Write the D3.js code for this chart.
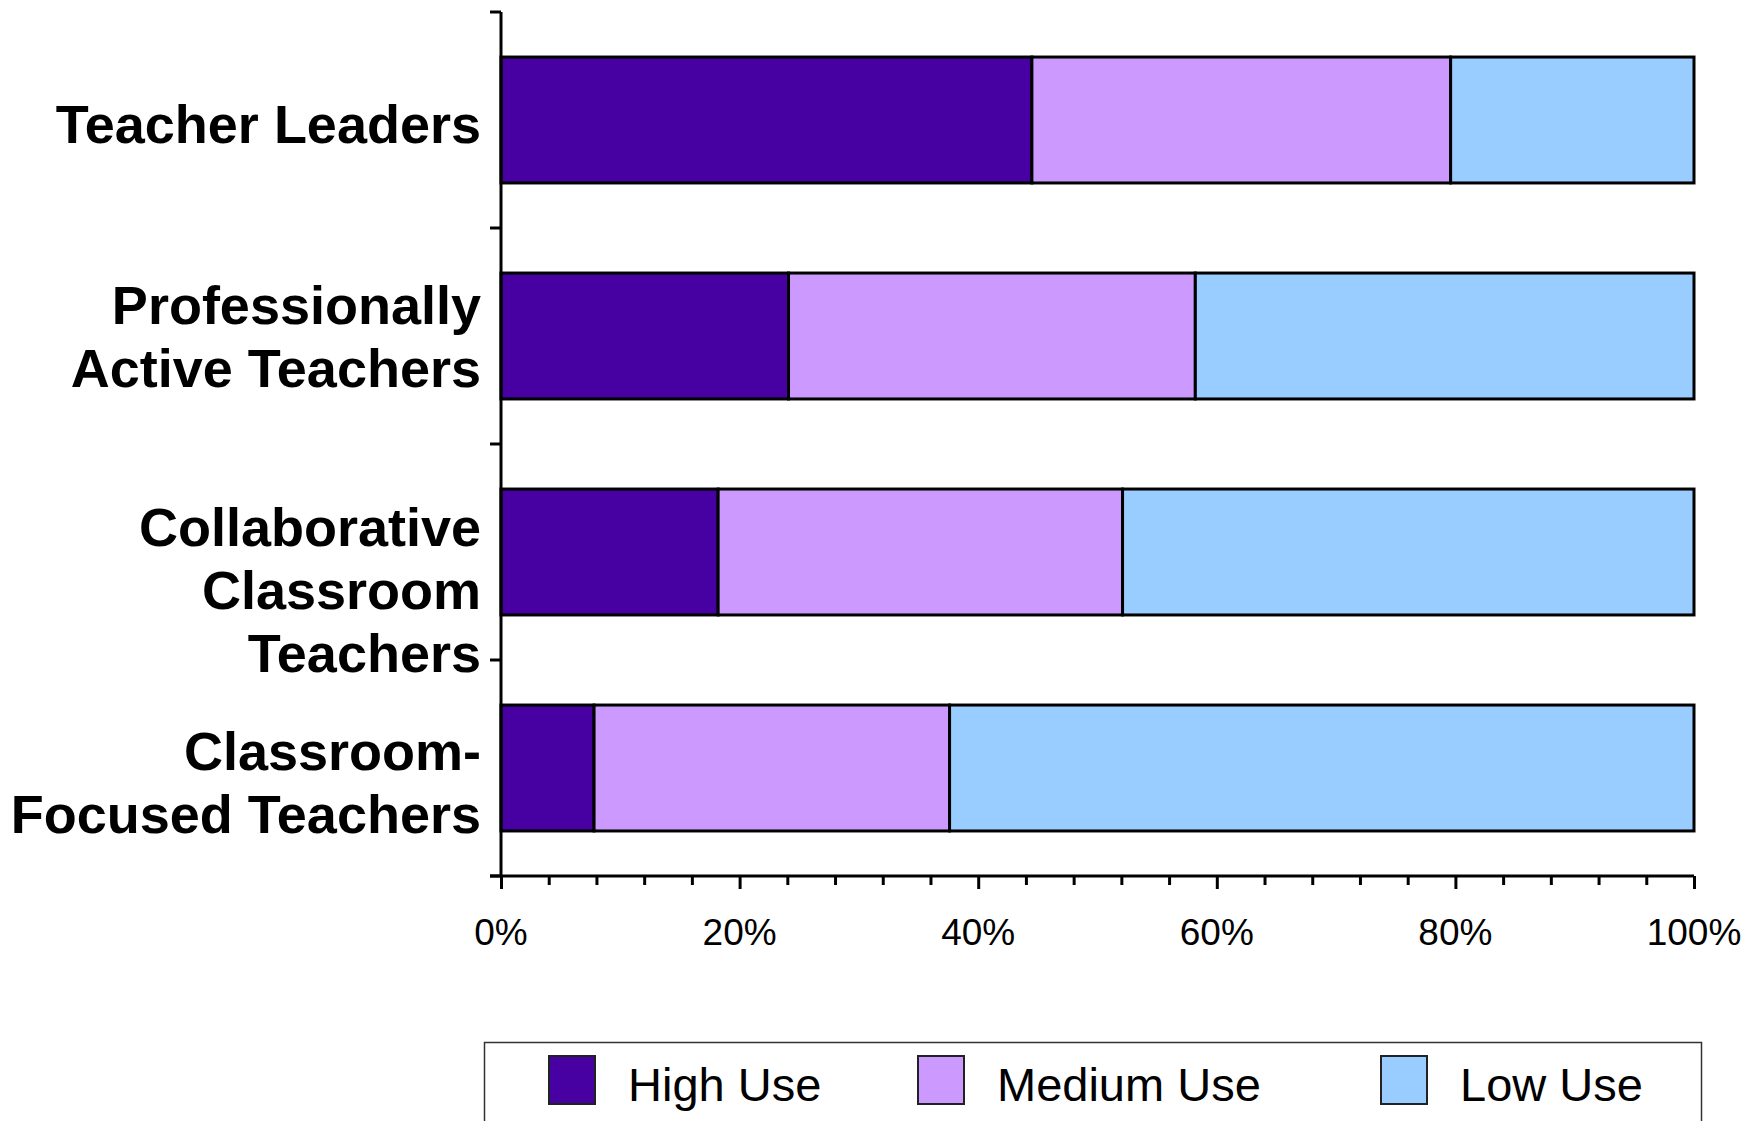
<!DOCTYPE html>
<html>
<head>
<meta charset="utf-8">
<script src="https://cdn.jsdelivr.net/npm/d3@7"></script>
<style>
  html, body { margin: 0; padding: 0; background: #fff; }
  svg { display: block; font-family: "Liberation Sans", Arial, sans-serif; }
</style>
</head>
<body>
<svg id="chart" width="1761" height="1121"></svg>
<script>
// Teacher groups (top to bottom), each label split into its display lines
const categories = [
  "Teacher Leaders",
  "Professionally Active Teachers",
  "Collaborative Classroom Teachers",
  "Classroom-Focused Teachers"
];
const categoryLines = [
  ["Teacher Leaders"],
  ["Professionally", "Active Teachers"],
  ["Collaborative", "Classroom", "Teachers"],
  ["Classroom-", "Focused Teachers"]
];

// Share of each group (percent) by level of use
const seriesNames = ["High Use", "Medium Use", "Low Use"];
const highUse   = [44.5, 24.1, 18.2, 7.8];
const mediumUse = [35.1, 34.1, 33.9, 29.8];
const lowUse    = [20.4, 41.8, 47.9, 62.4];

const xTickValues = [0, 20, 40, 60, 80, 100];
const xTickLabels = ["0%", "20%", "40%", "60%", "80%", "100%"];

// ---- layout ----
const colors = ["#4700A2", "#CC99FF", "#99CCFF"];
const svg = d3.select("#chart");

const x = d3.scaleLinear().domain([0, 100]).range([501, 1694]);
const y = d3.scaleBand().domain(categories).range([12, 876])
  .paddingInner(0.417).paddingOuter(0.2085);

const rows = categories.map((c, i) => ({
  category: c,
  "High Use": highUse[i],
  "Medium Use": mediumUse[i],
  "Low Use": lowUse[i]
}));
const stacked = d3.stack().keys(seriesNames)(rows);

// bars
const layers = svg.append("g").selectAll("g")
  .data(stacked).join("g")
  .attr("fill", (d, i) => colors[i]);

layers.selectAll("rect")
  .data(d => d)
  .join("rect")
  .attr("x", d => x(d[0]))
  .attr("y", d => y(d.data.category))
  .attr("width", d => x(d[1]) - x(d[0]))
  .attr("height", y.bandwidth())
  .attr("stroke", "#000")
  .attr("stroke-width", 3);

// y axis line and boundary ticks
const yAxis = svg.append("g").attr("stroke", "#000").attr("stroke-width", 3);
yAxis.append("line")
  .attr("x1", x(0)).attr("x2", x(0))
  .attr("y1", y.range()[0]).attr("y2", y.range()[1]);
const boundaries = categories.map(c => y(c) - y.step() * y.paddingInner() / 2);
boundaries.push(y.range()[1]);
boundaries[0] = y.range()[0];
yAxis.selectAll("line.tick")
  .data(boundaries).join("line")
  .attr("class", "tick")
  .attr("x1", x(0) - 11).attr("x2", x(0))
  .attr("y1", d => d).attr("y2", d => d);

// x axis
const xAxis = d3.axisBottom(x)
  .tickValues(d3.range(0, 101, 4))
  .tickSize(9)
  .tickSizeOuter(0)
  .tickFormat("");
const gx = svg.append("g")
  .attr("transform", `translate(0,${y.range()[1]})`)
  .call(xAxis);
gx.select(".domain").attr("stroke", "#000").attr("stroke-width", 3)
  .attr("d", `M${x(0) - 11},0H${x(100)}`);
gx.selectAll(".tick line")
  .attr("stroke", "#000").attr("stroke-width", 3)
  .attr("y2", d => (d % 20 === 0 ? 13 : 9));

svg.append("g").selectAll("text")
  .data(xTickValues).join("text")
  .attr("x", d => x(d))
  .attr("y", 945)
  .attr("text-anchor", "middle")
  .attr("font-size", 37)
  .attr("fill", "#000")
  .text((d, i) => xTickLabels[i]);

// category labels
const lineGap = 63;
const labelShift = [4, 0, 38, 14];
const labels = svg.append("g")
  .attr("font-size", 54).attr("font-weight", "bold")
  .attr("text-anchor", "end").attr("fill", "#000");
categoryLines.forEach((lines, i) => {
  const cy = y(categories[i]) + y.bandwidth() / 2 + labelShift[i];
  const first = cy - (lines.length - 1) * lineGap / 2 + 19;
  lines.forEach((t, k) => {
    labels.append("text")
      .attr("x", 481)
      .attr("y", first + k * lineGap)
      .text(t);
  });
});

// legend
const legend = svg.append("g");
legend.append("rect")
  .attr("x", 484.5).attr("y", 1042.5)
  .attr("width", 1217).attr("height", 120)
  .attr("fill", "#fff").attr("stroke", "#333").attr("stroke-width", 1.5);
const legendX = [549, 918, 1381];
const legendItems = legend.selectAll("g.item")
  .data(seriesNames).join("g")
  .attr("class", "item")
  .attr("transform", (d, i) => `translate(${legendX[i]},1056)`);
legendItems.append("rect")
  .attr("width", 46).attr("height", 48)
  .attr("fill", (d, i) => colors[i])
  .attr("stroke", "#222").attr("stroke-width", 2);
legendItems.append("text")
  .attr("x", 79).attr("y", 45)
  .attr("font-size", 47).attr("fill", "#000")
  .text(d => d);
</script>
</body>
</html>
